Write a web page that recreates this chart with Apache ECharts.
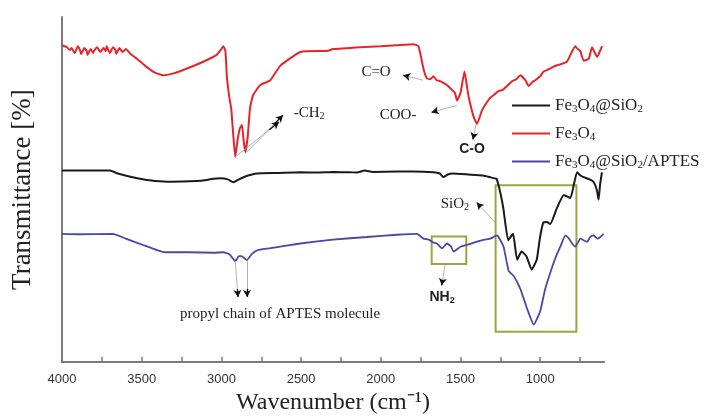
<!DOCTYPE html>
<html><head><meta charset="utf-8">
<script src="https://cdn.jsdelivr.net/npm/echarts@6/dist/echarts.min.js"></script>
<style>html,body{margin:0;padding:0;background:#fff}#c{width:704px;height:420px}</style>
</head><body><div id="c"></div>
<script>
// Wavenumber (cm^-1), transmittance (a.u.)
const fe3o4 = [[4000,332],[3970,330],[3950,327],[3940,329],[3920,324],[3900,331],[3885,326],[3880,323],[3860,329],[3845,326],[3840,322],[3820,328],[3805,324],[3800,326],[3780,330],[3760,325],[3740,329],[3725,326],[3720,331],[3700,324],[3680,330],[3665,327],[3660,323],[3640,329],[3620,325],[3600,328],[3570,323],[3530,318],[3480,311],[3420,304],[3364,301],[3300,303],[3200,309],[3100,316],[3030,322],[3000,328],[2988,331],[2975,326],[2965,298],[2950,278],[2938,266],[2925,238],[2913,217],[2900,233],[2885,246],[2871,250],[2860,233],[2850,222],[2835,238],[2820,268],[2800,281],[2756,291],[2693,296],[2630,311],[2505,325],[2400,326],[2338,326],[2300,328],[2129,330],[2000,331],[1900,332],[1796,333],[1764,331],[1733,308],[1712,298],[1690,297],[1670,300],[1650,296],[1628,295],[1605,293],[1585,291],[1554,286],[1535,283],[1522,275],[1500,283],[1475,305],[1460,290],[1448,278],[1417,258],[1397,251],[1380,258],[1365,265],[1340,272],[1313,278],[1290,281],[1260,285],[1235,286],[1208,290],[1176,295],[1150,297],[1125,301],[1093,296],[1073,290],[1050,294],[1031,296],[1000,300],[979,305],[950,307],[916,310],[880,312],[833,315],[802,325],[780,331],[765,328],[749,326],[727,316],[696,318],[675,330],[660,325],[643,320],[625,326],[612,331]];
const fe3o4SiO2 = [[4000,203],[3700,203],[3650,200],[3550,196],[3450,193],[3340,191.5],[3200,192],[3132,192.5],[3050,194.5],[3007,195],[2960,194],[2925,191],[2890,194],[2850,197],[2776,200],[2650,200.5],[2505,201.3],[2400,201],[2300,201.5],[2190,201.3],[2150,201],[2100,203],[2050,201.5],[1900,202],[1800,202],[1670,201.3],[1630,200],[1608,196.3],[1580,199],[1550,200],[1450,199],[1358,198],[1310,196],[1285,195],[1274,194.7],[1250,180],[1232,164.7],[1201,131.3],[1185,135],[1170,138],[1145,111.3],[1117,119.7],[1086,114.7],[1054,101.3],[1022,111.3],[1001,134.7],[980,149.7],[958,150],[937,148],[895,164.7],[852,178],[811,174.7],[790,188],[769,201.3],[748,198],[727,196.3],[690,194],[665,191.3],[645,183],[634,173],[625,188],[613,201.3]];
const fe3o4SiO2Aptes = [[4000,138],[3900,137.5],[3680,138],[3600,133],[3500,127],[3400,121],[3350,119],[3200,119],[3050,118.5],[2988,119],[2950,117],[2913,110],[2890,115],[2875,115],[2840,111],[2810,117],[2776,121],[2700,123],[2505,128],[2300,132],[2087,134.7],[1900,137],[1773,138],[1733,133],[1700,132],[1670,129],[1648,128],[1616,123],[1585,128],[1560,125],[1543,119.7],[1500,124.7],[1450,127],[1397,130],[1350,132],[1313,133],[1272,136.3],[1262,134.7],[1230,124.7],[1198,99.7],[1167,94.7],[1125,81.3],[1083,61.3],[1041,44.7],[1001,58],[969,81.3],[937,98],[905,113],[874,124.7],[842,136.3],[820,133],[800,128],[780,124.7],[748,133],[706,129.7],[685,135],[665,136.3],[640,133],[623,134.7],[602,138]];
const seriesNames = ['Fe3O4@SiO2','Fe3O4','Fe3O4@SiO2/APTES'];
const labelTicks = [1000,1500,2000,2500,3000,3500,4000];
const tickValues = [750,1000,1250,1500,1750,2000,2250,2500,2750,3000,3250,3500,3750,4000];
// annotations: [text, wavenumber, value]
const annText = [['-CH{s|2}',2450,262],['C=O',2030,304],['COO-',1892,260],['C-O',1428,225],['SiO{s|2}',1535,169],['NH{s|2}',1616,73],['propyl chain of APTES molecule',2632,55]];
const annArrows = [[[2913,217],[2639,253]],[[2841,222],[2614,260]],[[1735,296],[1859,301]],[[1524,270],[1681,263]],[[1403,250],[1422,235]],[[1284,150],[1398,170]],[[1597,106],[1618,85]],[[2913,110],[2896,73]],[[2841,111],[2839,73]]];
const boxes = [[[1681,135.3],[1464,107]],[[1280,188],[773,37.3]]];

const serif = 'Liberation Serif, Times New Roman, serif';
const sans = 'Liberation Sans, Arial, sans-serif';
const richSub = {
  s:{fontSize:10,fontFamily:serif,color:'#222',padding:[7,0,0,0]},
  L:{fontSize:11,fontFamily:serif,color:'#222',padding:[8,0,0,0]},
  b:{fontSize:9,fontFamily:sans,fontWeight:'bold',color:'#222',padding:[7,0,0,0]}
};
function richName(n){ return n.replace(/(\d)/g,'{L|$1}'); }
const colors = ['#1a1a1a','#e2262b','#4848a6'];
const dataSets = [fe3o4SiO2, fe3o4, fe3o4SiO2Aptes];

const chart = echarts.init(document.getElementById('c'),null,{renderer:'canvas'});
const series = seriesNames.map((n,i)=>({
  name:n,type:'line',data:dataSets[i],showSymbol:false,symbol:'none',
  lineStyle:{color:colors[i],width:i===2?1.8:2},itemStyle:{color:colors[i]},
  smooth:0.15,z:3
}));
function isSans(t){ return t==='C-O'||t.indexOf('NH')===0; }
// short black arrow heads near the end of each grey leader line
const arrowHeads = annArrows.map(a=>{
  const f=0.78;
  const p=[a[0][0]+(a[1][0]-a[0][0])*f, a[0][1]+(a[1][1]-a[0][1])*f];
  return [{coord:p},{coord:a[1]}];
});
series.push({
  name:'ann',type:'line',data:[],silent:true,z:4,
  markPoint:{symbol:'circle',symbolSize:0,silent:true,
    data:annText.map(a=>({coord:[a[1],a[2]],value:a[0],
      label:{show:true,position:'inside',formatter:a[0],
        fontFamily:isSans(a[0])?sans:serif,
        fontWeight:isSans(a[0])?'bold':'normal',
        fontSize:isSans(a[0])?14:15,color:'#222',
        rich:(a[0].indexOf('NH')===0)?{s:richSub.b}:richSub}}))},
  markLine:{silent:true,symbol:['none','none'],animation:false,
    lineStyle:{color:'#a0a0a0',width:0.8,type:'solid'},label:{show:false},
    data:annArrows.map(a=>[{coord:a[0]},{coord:a[1]}])}
});
series.push({
  name:'ann2',type:'line',data:[],silent:true,z:5,
  markLine:{silent:true,symbol:['none','arrow'],symbolSize:[6,7],animation:false,
    lineStyle:{color:'#111',width:1.3,type:'solid'},label:{show:false},
    data:arrowHeads},
  markArea:{silent:true,itemStyle:{color:'rgba(0,0,0,0)',borderColor:'#9ea53e',borderWidth:2},
    data:boxes.map(b=>[{coord:b[0]},{coord:b[1]}])}
});

chart.setOption({
  animation:false,
  backgroundColor:'#fff',
  grid:{left:62,right:100,top:17,bottom:48},
  legend:{data:seriesNames,orient:'vertical',left:507,top:92,itemGap:10,
    itemWidth:38,itemHeight:2,icon:'rect',
    formatter:n=>richName(n),
    textStyle:{fontFamily:serif,fontSize:17,color:'#222',rich:richSub}},
  xAxis:{type:'value',inverse:true,min:600,max:4000,
    name:'Wavenumber (cm⁻¹)',nameLocation:'middle',nameGap:26,
    nameTextStyle:{fontFamily:serif,fontSize:24,color:'#222'},
    axisLine:{lineStyle:{color:'#7a7a7a',width:2}},
    axisTick:{show:true,inside:true,length:5,customValues:tickValues,lineStyle:{color:'#7a7a7a',width:1.5}},
    axisLabel:{customValues:labelTicks,margin:11,fontFamily:sans,fontSize:13,color:'#333',formatter:v=>String(v)},
    splitLine:{show:false}},
  yAxis:{type:'value',min:6,max:361,
    name:'Transmittance [%]',nameLocation:'middle',nameGap:26,
    nameTextStyle:{fontFamily:serif,fontSize:27,color:'#222'},
    axisLine:{show:true,lineStyle:{color:'#7a7a7a',width:2}},
    axisTick:{show:false},axisLabel:{show:false},splitLine:{show:false}},
  series:series
});
</script></body></html>
